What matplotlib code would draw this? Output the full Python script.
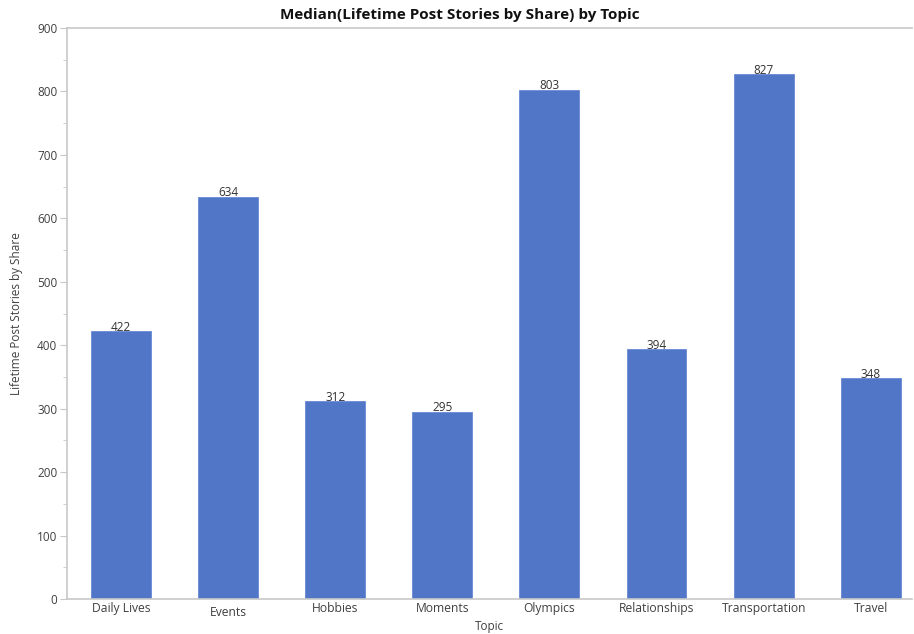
import matplotlib
matplotlib.use("Agg")
import matplotlib.pyplot as plt
from matplotlib.ticker import MultipleLocator

topics = ["Daily Lives", "Events", "Hobbies", "Moments", "Olympics",
          "Relationships", "Transportation", "Travel"]
median_shares = [422, 634, 312, 295, 803, 394, 827, 348]

BAR = "#5175C7"
AXIS = "#C8C8C8"
TXT = "#404040"

plt.rcParams["font.family"] = ["Open Sans", "DejaVu Sans"]

fig = plt.figure(figsize=(9.14, 6.34), dpi=100)
ax = fig.add_axes([0.0733, 0.0552, 0.925, 0.9006])

x = range(len(topics))
ax.bar(x, median_shares, width=0.56, color=BAR, edgecolor="#6A8AD6", linewidth=0.6)
for i, v in zip(x, median_shares):
    ax.text(i, v - 4, str(v), ha="center", va="bottom", fontsize=8.5, color="#333333")

ax.set_xlim(-0.505, 7.39)
ax.set_ylim(0, 900)
ax.yaxis.set_major_locator(MultipleLocator(100))
ax.yaxis.set_minor_locator(MultipleLocator(50))
ax.set_xticks(list(x))
ax.set_xticklabels(topics, fontsize=8.7, color=TXT)
# Events label sits a little lower in the original
ax.get_xticklabels()[1].set_y(-0.007)
ax.tick_params(axis="x", length=0, pad=2)
ax.tick_params(axis="y", which="major", length=5, color=AXIS, labelsize=8.5, labelcolor=TXT, pad=2)
ax.tick_params(axis="y", which="minor", length=3, color=AXIS)

for s in ("left", "bottom", "top"):
    ax.spines[s].set_color(AXIS)
    ax.spines[s].set_linewidth(1.2)
ax.spines["right"].set_visible(False)

fig.text(0.503, 0.965, "Median(Lifetime Post Stories by Share) by Topic", fontsize=11,
         fontweight="bold", color="#111111", ha="center", va="bottom")
ax.set_xlabel("Topic", fontsize=8.5, color=TXT, labelpad=1)
ax.set_ylabel("Lifetime Post Stories by Share", fontsize=8.5, color=TXT, labelpad=10)

fig.savefig("out.png", dpi=100)
